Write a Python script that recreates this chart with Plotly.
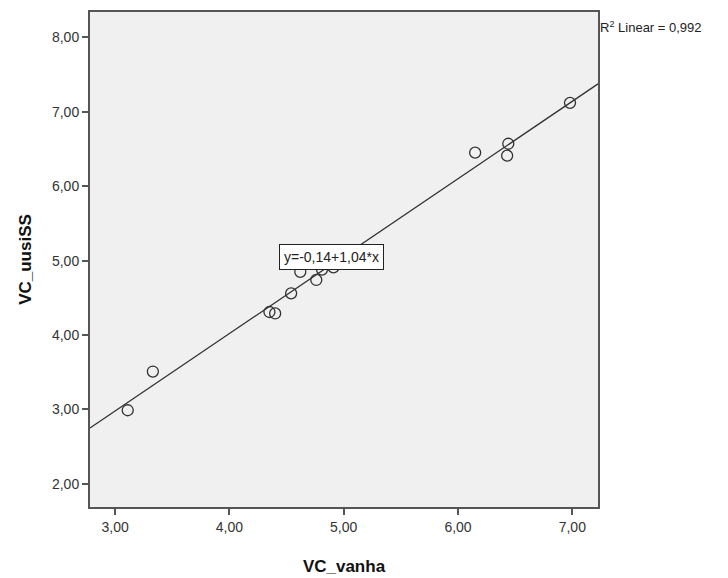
import numpy as np
import plotly.graph_objects as go

# Observations
vc_vanha = [3.11, 3.33, 4.35, 4.40, 4.54, 4.62, 4.76, 4.81, 4.91, 6.15, 6.44, 6.43, 6.98]
vc_uusiss = [2.99, 3.51, 4.31, 4.29, 4.56, 4.85, 4.74, 4.88, 4.91, 6.45, 6.57, 6.41, 7.12]

# Fitted linear model
intercept = -0.14
slope = 1.04
r_squared = 0.992

x_range = [2.78, 7.225]
y_range = [1.69, 8.34]
tick_vals = [2, 3, 4, 5, 6, 7, 8]

fit_x = np.array(x_range)
fit_y = intercept + slope * fit_x

fig = go.Figure()
fig.add_trace(go.Scatter(
    x=fit_x, y=fit_y, mode="lines",
    line=dict(color="#333333", width=1.3),
    hoverinfo="skip", showlegend=False,
))
fig.add_trace(go.Scatter(
    x=vc_vanha, y=vc_uusiss, mode="markers",
    marker=dict(symbol="circle-open", size=11, color="#333333",
                line=dict(width=1.3, color="#333333")),
    showlegend=False,
))

font_family = "Liberation Sans, Arial, sans-serif"

fig.add_annotation(
    x=4.89, y=5.05, xref="x", yref="y",
    text="y=-0,14+1,04*x", showarrow=False,
    font=dict(family=font_family, size=14, color="#222222"),
    bgcolor="white", bordercolor="#222222", borderwidth=1, borderpad=4,
)
fig.add_annotation(
    x=1.0, y=1.0, xref="paper", yref="paper",
    xanchor="left", yanchor="top", xshift=0, yshift=-5,
    text="R<sup>2</sup> Linear = 0,992", showarrow=False,
    font=dict(family=font_family, size=13, color="#222222"),
)

axis_common = dict(
    showline=True, mirror=True, linecolor="#555555", linewidth=2,
    ticks="outside", ticklen=6, tickwidth=2, tickcolor="#555555",
    showgrid=False, zeroline=False, tickformat=".2f", automargin=False,
    tickfont=dict(family=font_family, size=14, color="#333333"),
)

fig.update_layout(
    width=728, height=578,
    margin=dict(l=90, r=130, t=12, b=71),
    paper_bgcolor="white", plot_bgcolor="#F0F0F0",
    separators=",.",
    xaxis=dict(range=x_range, tickvals=tick_vals[1:],
               title=dict(text="<b>VC_vanha</b>", standoff=26,
                          font=dict(family=font_family, size=17, color="#111111")),
               **axis_common),
    yaxis=dict(range=y_range, tickvals=tick_vals,
               title=dict(text="<b>VC_uusiSS</b>", standoff=16,
                          font=dict(family=font_family, size=17, color="#111111")),
               **axis_common),
)

fig.write_html("out.html")
